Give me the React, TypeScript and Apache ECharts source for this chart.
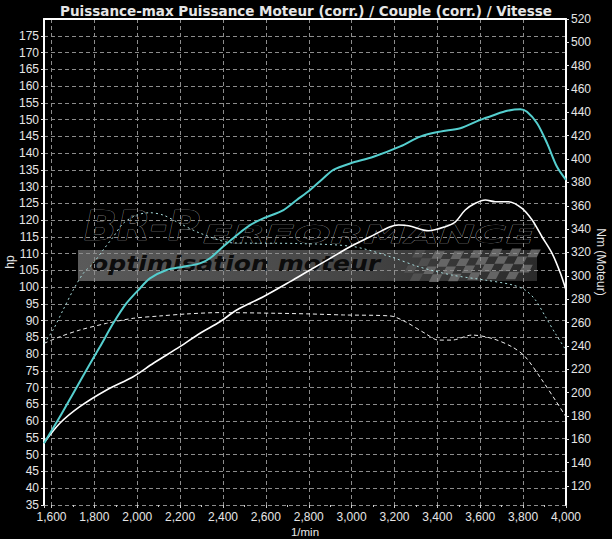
import React, { useEffect, useRef } from "react";
import * as echarts from "echarts";

// Main power curve (hp, left axis)
const rpmPower = [1565, 1639, 1701, 1763, 1826, 1888, 1950, 2012, 2059, 2137, 2215, 2293, 2339, 2401, 2464, 2526, 2588, 2682, 2744, 2806, 2868, 2915, 2993, 3102, 3227, 3320, 3413, 3507, 3600, 3662, 3725, 3787, 3818, 3865, 3912, 3958, 4000];
const powerHp = [53.4, 61.3, 68.3, 75.3, 82.2, 89.2, 95.2, 99.6, 102.6, 105.1, 106.1, 107.1, 108.6, 112.1, 115.5, 118.5, 120.5, 123.0, 126.0, 129.0, 132.5, 135.0, 136.9, 138.9, 142.0, 144.9, 146.4, 147.4, 149.9, 151.3, 152.6, 153.1, 152.3, 148.9, 142.9, 135.9, 132.0];

// Torque curve (Nm, right axis)
const rpmTorque = [1565, 1639, 1732, 1857, 1981, 2075, 2199, 2293, 2386, 2464, 2588, 2713, 2806, 2900, 2993, 3087, 3180, 3219, 3266, 3359, 3437, 3484, 3530, 3577, 3624, 3670, 3732, 3795, 3842, 3888, 3935, 3974, 4000];
const torqueNm = [156.8, 173.7, 187.9, 202.2, 213.6, 225.1, 239.3, 250.8, 260.7, 270.7, 282.1, 295.0, 305.0, 315.0, 324.9, 333.5, 342.1, 343.5, 342.9, 338.6, 342.1, 346.3, 356.4, 362.1, 364.9, 363.5, 363.5, 357.8, 347.8, 333.5, 319.3, 302.2, 287.9];

// Reference run, upper dashed curve (hp scale)
const rpmRefA = [1565, 1607, 1654, 1701, 1748, 1794, 1841, 1888, 1934, 1997, 2059, 2121, 2184, 2293, 2447, 2760, 3007, 3180, 3312, 3468, 3624, 3748, 3810, 3857, 3904, 3950, 4000];
const refAHp = [83.2, 87.2, 93.2, 99.1, 104.1, 107.1, 111.1, 115.0, 119.0, 121.5, 122.2, 121.5, 119.5, 116.1, 113.2, 113.0, 112.1, 109.1, 106.1, 103.6, 102.1, 100.7, 99.1, 96.2, 91.2, 86.2, 81.2];

// Reference run, lower dashed curve (hp scale)
const rpmRefB = [1565, 1639, 1732, 1857, 1981, 2106, 2230, 2386, 2651, 2806, 2962, 3180, 3250, 3343, 3405, 3468, 3561, 3655, 3748, 3810, 3888, 3950, 4000];
const refBHp = [83.2, 85.2, 87.2, 89.2, 90.7, 91.4, 92.0, 92.4, 92.2, 92.0, 91.7, 91.4, 89.7, 86.2, 84.2, 84.2, 85.7, 84.7, 82.2, 79.2, 72.3, 66.3, 61.3];

const titleText = "Puissance-max Puissance Moteur (corr.) / Couple (corr.) / Vitesse";
const leftAxisName = "hp";
const rightAxisName = "Nm (Moteur)";
const xAxisName = "1/min";
const logoBig = "BR-P";
const logoRest = "ERFORMANCE";
const logoSub = "optimisation moteur";

const zip = (xs: number[], ys: number[]) => xs.map((x, i) => [x, ys[i]]);

function buildChecker() {
  const cells: any[] = [];
  const cols = 13;
  const rows = 4;
  const x0 = 412;
  const y0 = 250;
  const cw = 9.6;
  const ch = 7.6;
  const skew = 4;
  for (let r = 0; r < rows; r++) {
    for (let c = 0; c < cols; c++) {
      if ((r + c) % 2 !== 0) continue;
      const wave = Math.sin(c / 2) * 1.5;
      const x = x0 + c * cw - r * skew;
      const y = y0 + r * ch + wave;
      cells.push({
        type: "polygon",
        z: 1,
        shape: { points: [[x + skew, y], [x + cw + skew, y], [x + cw, y + ch], [x, y + ch]] },
        style: { fill: "#6e6e6e", opacity: c < 2 ? 0.4 : 0.85 },
        silent: true,
      });
    }
  }
  return cells;
}

export default function App() {
  const ref = useRef<HTMLDivElement>(null);
  useEffect(() => {
    document.body.style.margin = "0";
    document.body.style.background = "#000";
    const chart = echarts.init(ref.current!, null, { renderer: "svg" });
    const labelFont = { color: "#e6e6e6", fontSize: 12, fontFamily: "Liberation Sans" };
    const gridLine = { show: true, lineStyle: { color: "#8c8c8c", type: [4, 3] as any, width: 1 } };
    const logoGrad = () =>
      new echarts.graphic.LinearGradient(0, 0, 0, 1, [
        { offset: 0, color: "#858585" },
        { offset: 1, color: "#3c3c3c" },
      ]);
    chart.setOption({
      animation: false,
      backgroundColor: "#000",
      title: {
        text: titleText,
        left: "center",
        top: -1,
        textStyle: { color: "#e6e6e6", fontSize: 13.5, fontWeight: "bold", fontFamily: "DejaVu Sans" },
      },
      grid: { left: 44, right: 46, top: 19, bottom: 34, outerBoundsMode: "none" } as any,
      xAxis: [
        {
          type: "value",
          z: 5,
          min: 1565,
          max: 4000,
          splitNumber: 12,
          name: xAxisName,
          nameLocation: "middle",
          nameGap: 21,
          nameMoveOverlap: false,
          nameTextStyle: { ...labelFont, fontSize: 11.5 },
          axisLine: { show: false },
          axisTick: { show: true, length: 3, lineStyle: { color: "#cfcfcf" } },
          minorTick: { show: true, splitNumber: 2, length: 2, lineStyle: { color: "#cfcfcf" } },
          axisLabel: {
            ...labelFont,
            margin: 6,
            showMinLabel: false,
            formatter: (v: number) => v.toLocaleString("en-US"),
          },
          splitLine: gridLine,
        },
        {
          type: "value",
          z: 5,
          position: "top",
          min: 1565,
          max: 4000,
          axisLine: { show: true, lineStyle: { color: "#fff", width: 2 } },
          axisTick: { show: false },
          axisLabel: { show: false },
          splitLine: { show: false },
        },
      ],
      yAxis: [
        {
          type: "value",
          z: 5,
          min: 35,
          max: 180,
          interval: 5,
          position: "left",
          name: leftAxisName,
          nameLocation: "middle",
          nameGap: 28,
          nameMoveOverlap: false,
          nameTextStyle: { ...labelFont },
          axisLine: { show: true, lineStyle: { color: "#fff", width: 2 } },
          axisTick: { show: true, length: 3, lineStyle: { color: "#e6e6e6" } },
          axisLabel: { ...labelFont, margin: 5, showMaxLabel: false },
          splitLine: gridLine,
        },
        {
          type: "value",
          z: 5,
          min: 103.7,
          max: 520,
          splitNumber: 21,
          position: "right",
          name: rightAxisName,
          nameLocation: "middle",
          nameRotate: -90,
          nameGap: 29,
          nameMoveOverlap: false,
          nameTextStyle: { ...labelFont },
          axisLine: { show: true, lineStyle: { color: "#fff", width: 2 } },
          axisTick: { show: true, length: 3, lineStyle: { color: "#e6e6e6" } },
          axisLabel: { ...labelFont, margin: 5, showMinLabel: false },
          splitLine: { show: false },
        },
      ],
      graphic: [
        {
          type: "rect",
          z: 0,
          silent: true,
          shape: { x: 78, y: 250, width: 459, height: 31 },
          style: {
            fill: new echarts.graphic.LinearGradient(0, 0, 1, 0, [
              { offset: 0, color: "#5a5a5a" },
              { offset: 0.6, color: "#454545" },
              { offset: 1, color: "#2a2a2a" },
            ]),
          },
        },
        ...buildChecker(),
        {
          type: "text",
          z: 1,
          silent: true,
          x: 84,
          y: 246,
          scaleX: 1.08,
          style: {
            text: logoBig,
            font: 'italic bold 40px "DejaVu Sans"',
            align: "left",
            verticalAlign: "bottom",
            fill: logoGrad(),
            stroke: "#9a9a9a",
            lineWidth: 0.7,
          },
        },
        {
          type: "text",
          z: 1,
          silent: true,
          x: 203,
          y: 247,
          scaleX: 1.78,
          style: {
            text: logoRest,
            font: 'italic bold 24px "DejaVu Sans"',
            align: "left",
            verticalAlign: "bottom",
            fill: logoGrad(),
            stroke: "#9a9a9a",
            lineWidth: 0.5,
          },
        },
        {
          type: "text",
          z: 1,
          silent: true,
          x: 91,
          y: 264,
          scaleX: 1.14,
          style: {
            text: logoSub,
            font: 'italic bold 22px "DejaVu Sans"',
            align: "left",
            verticalAlign: "middle",
            fill: "#0c0c0c",
          },
        },
      ],
      series: [
        {
          name: "refA",
          type: "line",
          z: 10,
          yAxisIndex: 0,
          data: zip(rpmRefA, refAHp),
          smooth: 0.3,
          symbol: "none",
          lineStyle: { color: "#a8dede", width: 1, type: [2, 3] },
        },
        {
          name: "refB",
          type: "line",
          z: 10,
          yAxisIndex: 0,
          data: zip(rpmRefB, refBHp),
          smooth: 0.3,
          symbol: "none",
          lineStyle: { color: "#f0f0f0", width: 1, type: [4, 3] },
        },
        {
          name: "Couple (corr.)",
          type: "line",
          z: 10,
          yAxisIndex: 1,
          data: zip(rpmTorque, torqueNm),
          smooth: 0.3,
          symbol: "none",
          lineStyle: { color: "#ffffff", width: 1.6 },
        },
        {
          name: "Puissance Moteur (corr.)",
          type: "line",
          z: 10,
          yAxisIndex: 0,
          data: zip(rpmPower, powerHp),
          smooth: 0.3,
          symbol: "none",
          lineStyle: { color: "#55cfcf", width: 2 },
        },
      ],
    });
    return () => chart.dispose();
  }, []);
  return <div ref={ref} style={{ width: 612, height: 539 }} />;
}
